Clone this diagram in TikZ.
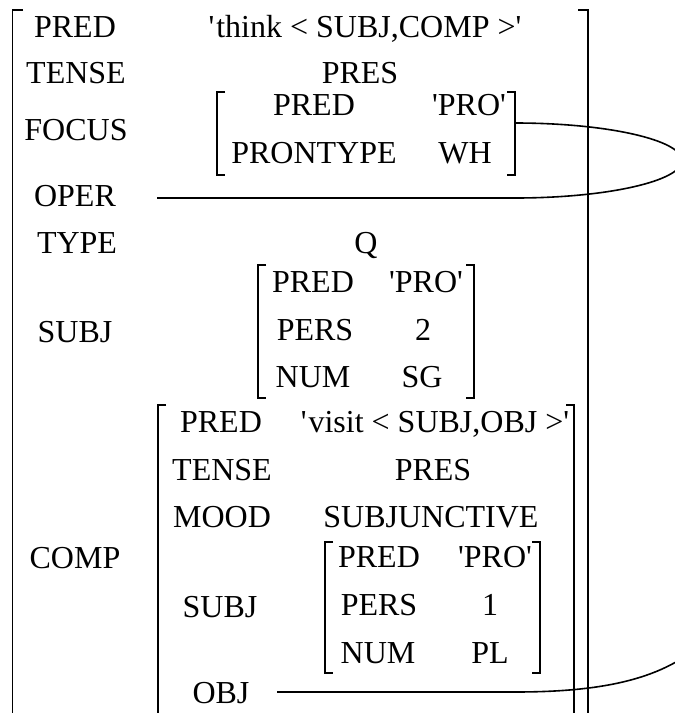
\documentclass[tikz,border=0pt]{standalone}
\usepackage{fontspec}
\setmainfont{Liberation Serif}
\newcommand{\sq}{\textquotesingle}
\begin{document}
\begin{tikzpicture}[x=1pt,y=-1pt,
  lbl/.style={anchor=base,inner sep=0pt,font=\fontsize{32}{38}\selectfont},
  brk/.style={line width=1.1pt},
  link/.style={line width=1.6pt}]
\useasboundingbox (0,0) rectangle (675,713);
\begin{scope}
\clip (0,0) rectangle (675,713);
% ---- brackets ----
\draw[brk] (23,10) -- (12.7,10) -- (12.7,720);
\draw[brk] (578,10) -- (588,10) -- (588,720);
\draw[brk] (225,92) -- (217,92) -- (217,175) -- (225,175);
\draw[brk] (507,92) -- (515,92) -- (515,175) -- (507,175);
\draw[brk] (266,265) -- (258,265) -- (258,398) -- (266,398);
\draw[brk] (466,265) -- (474,265) -- (474,398) -- (466,398);
\draw[brk] (166,405) -- (158,405) -- (158,720);
\draw[brk] (566,405) -- (574,405) -- (574,720);
\draw[brk] (333,542) -- (325,542) -- (325,673) -- (333,673);
\draw[brk] (532,542) -- (540,542) -- (540,673) -- (532,673);
% ---- text ----
\node[lbl] (pred0) at (75,37) {PRED};
\node[lbl] (predv0) at (365,37) {\sq\kern2pt think < SUBJ,COMP >\sq};
\node[lbl] (tense0) at (76,83) {TENSE};
\node[lbl] (pres0) at (360,83) {PRES};
\node[lbl] (focus0) at (76,140) {FOCUS};
\node[lbl] (fpred) at (314,115) {PRED};
\node[lbl] (fpro) at (469,115) {\sq PRO\sq};
\node[lbl] (fprontype) at (314,163) {PRONTYPE};
\node[lbl] (fwh) at (465,163) {WH};
\node[lbl] (oper) at (75,206) {OPER};
\node[lbl] (type0) at (77,253) {TYPE};
\node[lbl] (q0) at (366,253) {Q};
\node[lbl] (subj0) at (75,342) {SUBJ};
\node[lbl] (spred) at (313,292) {PRED};
\node[lbl] (spro) at (426,292) {\sq PRO\sq};
\node[lbl] (spers) at (315,340) {PERS};
\node[lbl] (s2) at (423,340) {2};
\node[lbl] (snum) at (313,387) {NUM};
\node[lbl] (ssg) at (422,387) {SG};
\node[lbl] (comp0) at (75,568) {COMP};
\node[lbl] (cpred) at (221,432) {PRED};
\node[lbl] (cpredv) at (435,432) {\sq\kern2pt visit < SUBJ,OBJ >\sq};
\node[lbl] (ctense) at (222,480) {TENSE};
\node[lbl] (cpres) at (433,480) {PRES};
\node[lbl] (cmood) at (222,527) {MOOD};
\node[lbl] (csubjv) at (431,527) {SUBJUNCTIVE};
\node[lbl] (csubj) at (220,617) {SUBJ};
\node[lbl] (ipred) at (379,567) {PRED};
\node[lbl] (ipro) at (495,567) {\sq PRO\sq};
\node[lbl] (ipers) at (379,615) {PERS};
\node[lbl] (i1) at (490,615) {1};
\node[lbl] (inum) at (378,663) {NUM};
\node[lbl] (ipl) at (490,663) {PL};
\node[lbl] (cobj) at (221,703) {OBJ};
% ---- connectors ----
\coordinate (operL) at (157,198);
\coordinate (operR) at (515,198);
\coordinate (focR) at (515,123);
\coordinate (objL) at (277,692);
\coordinate (objR) at (515,692);
\coordinate (objEnd) at (700,645);
\draw[link] (operL) -- (operR) .. controls (607,198) and (682,181) .. (682,160.5)
  .. controls (682,140) and (607,123) .. (focR);
\draw[link] (objL) -- (objR) .. controls (600,692) and (660,680) .. (objEnd);
\end{scope}
\end{tikzpicture}
\end{document}
